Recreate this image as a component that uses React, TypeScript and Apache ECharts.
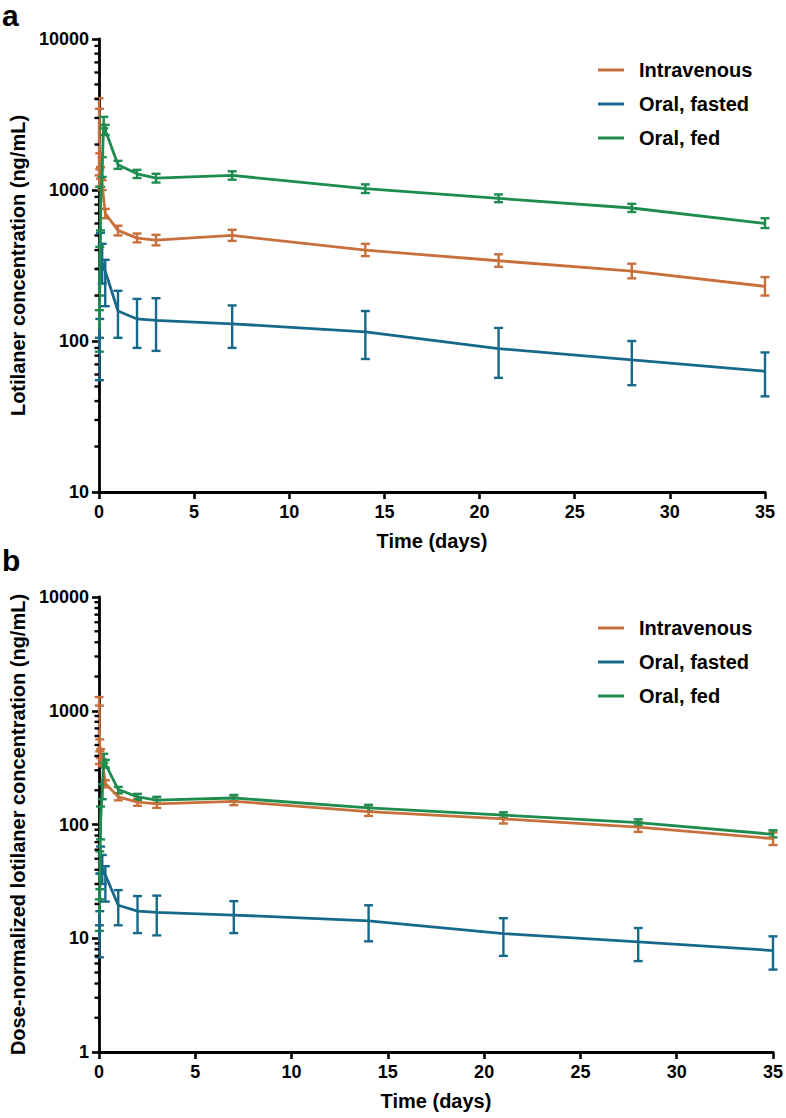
import React, { useEffect, useRef } from "react";
import * as echarts from "echarts";

// ---------- data ----------
const xTickValues = [0, 5, 10, 15, 20, 25, 30, 35];
const seriesNames = ["Intravenous", "Oral, fasted", "Oral, fed"];
const colors = ["#C8703C", "#17698A", "#1E8B4F"];

// Panel a: Lotilaner concentration (ng/mL)
const ivTime = [0.0035, 0.021, 0.042, 0.083, 0.17, 0.33, 1, 2, 3, 7, 14, 21, 28, 35];
const ivMeanA = [2100, 1900, 1550, 1300, 1080, 700, 540, 480, 465, 500, 400, 340, 290, 230];
const ivHiA = [4050, 3450, 1750, 1420, 1160, 750, 580, 515, 505, 545, 440, 375, 325, 265];
const ivLoA = [1250, 1050, 1370, 1190, 1000, 650, 500, 450, 430, 460, 365, 310, 260, 200];

const fastedTime = [0.021, 0.042, 0.083, 0.17, 0.33, 1, 2, 3, 7, 14, 21, 28, 35];
const fastedMeanA = [80, 220, 400, 330, 290, 158, 140, 137, 130, 115, 89, 75, 63];
const fastedHiA = [105, 300, 520, 440, 345, 215, 190, 192, 172, 158, 122, 100, 84];
const fastedLoA = [55, 140, 300, 240, 170, 105, 90, 86, 90, 76, 57, 51, 43];

const fedTime = [0.021, 0.042, 0.083, 0.17, 0.25, 0.33, 1, 2, 3, 7, 14, 21, 28, 35];
const fedMeanA = [120, 300, 780, 1430, 2800, 2500, 1470, 1280, 1200, 1250, 1020, 880, 760, 600];
const fedHiA = [160, 420, 1050, 1650, 3050, 2700, 1560, 1360, 1280, 1330, 1090, 935, 810, 650];
const fedLoA = [85, 200, 540, 1220, 2560, 2310, 1380, 1200, 1120, 1170, 955, 830, 715, 560];

// Panel b: Dose-normalized lotilaner concentration (ng/mL)
const ivMeanB = [680, 610, 500, 420, 350, 230, 175, 157, 152, 160, 130, 112, 95, 75];
const ivHiB = [1320, 1110, 560, 460, 375, 245, 188, 168, 164, 173, 141, 121, 105, 85];
const ivLoB = [400, 340, 440, 385, 325, 212, 163, 146, 140, 148, 119, 102, 86, 66];

const fastedMeanB = [9.9, 27, 49, 41, 36, 19.5, 17.3, 16.9, 16, 14.2, 11, 9.3, 7.8];
const fastedHiB = [13, 37, 64, 54, 43, 26.5, 23.5, 23.7, 21.2, 19.5, 15, 12.3, 10.4];
const fastedLoB = [6.8, 17.3, 37, 30, 21, 13, 11.1, 10.6, 11.1, 9.4, 7, 6.3, 5.3];

const fedMeanB = [16.5, 41, 107, 196, 384, 342, 203, 175, 164, 171, 140, 121, 104, 82];
const fedHiB = [22, 58, 144, 226, 418, 370, 214, 186, 175, 182, 149, 128, 111, 89];
const fedLoB = [11.6, 27, 74, 167, 350, 316, 189, 164, 153, 160, 131, 114, 98, 77];

const yRangeA = [10, 10000];
const yRangeB = [1, 10000];

const FONT = "'Liberation Sans', Arial, Helvetica, sans-serif";

function minorValues(min: number, max: number) {
  const out: number[] = [];
  for (let p = min; p < max; p *= 10) {
    for (let k = 2; k <= 9; k++) out.push(p * k);
  }
  return out;
}

function pairs(t: number[], v: number[]) {
  return t.map((x, i) => [x, v[i]]);
}
function triples(t: number[], lo: number[], hi: number[]) {
  return t.map((x, i) => [x, lo[i], hi[i]]);
}

function errorRender(color: string) {
  return (params: any, api: any) => {
    const x = api.value(0);
    const lo = api.coord([x, api.value(1)]);
    const hi = api.coord([x, api.value(2)]);
    const hw = 4.5;
    const style = { stroke: color, lineWidth: 2.4 };
    return {
      type: "group",
      children: [
        { type: "line", shape: { x1: lo[0], y1: lo[1], x2: hi[0], y2: hi[1] }, style },
        { type: "line", shape: { x1: hi[0] - hw, y1: hi[1], x2: hi[0] + hw, y2: hi[1] }, style },
        { type: "line", shape: { x1: lo[0] - hw, y1: lo[1], x2: lo[0] + hw, y2: lo[1] }, style },
      ],
    };
  };
}

function minorTickRender(params: any, api: any) {
  const p = api.coord([0, api.value(0)]);
  return {
    type: "line",
    shape: { x1: p[0] - 4.5, y1: p[1], x2: p[0], y2: p[1] },
    style: { stroke: "#000", lineWidth: 2.4 },
  };
}

function buildPanel(idx: number, data: any) {
  const out: any[] = [];
  const groups = [
    { name: seriesNames[0], t: ivTime, m: data.iv[0], lo: data.iv[1], hi: data.iv[2], c: colors[0] },
    { name: seriesNames[1], t: fastedTime, m: data.fa[0], lo: data.fa[1], hi: data.fa[2], c: colors[1] },
    { name: seriesNames[2], t: fedTime, m: data.fe[0], lo: data.fe[1], hi: data.fe[2], c: colors[2] },
  ];
  groups.forEach((g) => {
    out.push({
      type: "custom",
      name: g.name,
      xAxisIndex: idx,
      yAxisIndex: idx,
      renderItem: errorRender(g.c),
      encode: { x: 0, y: [1, 2] },
      data: triples(g.t, g.lo, g.hi),
      z: 3,
      silent: true,
      itemStyle: { color: g.c },
    });
    out.push({
      type: "line",
      name: g.name,
      xAxisIndex: idx,
      yAxisIndex: idx,
      data: pairs(g.t, g.m),
      showSymbol: false,
      symbol: "none",
      lineStyle: { color: g.c, width: 2.8 },
      itemStyle: { color: g.c },
      z: 4,
    });
  });
  out.push({
    type: "custom",
    xAxisIndex: idx,
    yAxisIndex: idx,
    renderItem: minorTickRender,
    encode: { y: 0 },
    data: minorValues(data.range[0], data.range[1]).map((v) => [v]),
    silent: true,
    clip: false,
    z: 5,
  });
  return out;
}

function xAxisCfg(idx: number) {
  return {
    type: "value",
    gridIndex: idx,
    min: xTickValues[0],
    max: xTickValues[xTickValues.length - 1],
    interval: 5,
    name: "Time (days)",
    nameLocation: "middle",
    nameGap: 39,
    nameTextStyle: { fontFamily: FONT, fontWeight: "bold", fontSize: 20, color: "#000" },
    axisLine: { show: true, lineStyle: { color: "#000", width: 2.8 } },
    axisTick: { show: true, length: 7, lineStyle: { color: "#000", width: 2.6 } },
    axisLabel: {
      fontFamily: FONT,
      fontWeight: "bold",
      fontSize: 18,
      color: "#000",
      margin: 11,
    },
    splitLine: { show: false },
  };
}

function yAxisCfg(idx: number, range: number[], name: string, gap: number) {
  return {
    type: "log",
    logBase: 10,
    gridIndex: idx,
    min: range[0],
    max: range[1],
    name,
    nameLocation: "middle",
    nameGap: gap,
    nameTextStyle: { fontFamily: FONT, fontWeight: "bold", fontSize: 20, color: "#000" },
    axisLine: { show: true, lineStyle: { color: "#000", width: 2.8 } },
    axisTick: { show: true, length: 7, lineStyle: { color: "#000", width: 2.6 } },
    axisLabel: {
      fontFamily: FONT,
      fontWeight: "bold",
      fontSize: 18,
      color: "#000",
      margin: 10,
      formatter: (v: number) => String(Math.round(v)),
    },
    splitLine: { show: false },
    minorTick: { show: false },
  };
}

function legendCfg(top: number) {
  return {
    show: true,
    orient: "vertical",
    left: 593,
    top,
    itemWidth: 26,
    itemHeight: 3,
    itemGap: 14,
    icon: "rect",
    data: seriesNames,
    selectedMode: false,
    textStyle: {
      fontFamily: FONT,
      fontWeight: "bold",
      fontSize: 20,
      color: "#000",
      padding: [0, 0, 0, 10],
    },
  };
}

export default function App() {
  const ref = useRef<HTMLDivElement>(null);
  useEffect(() => {
    if (!ref.current) return;
    const chart = echarts.init(ref.current, null, { renderer: "svg" });
    const seriesA = buildPanel(0, {
      iv: [ivMeanA, ivLoA, ivHiA],
      fa: [fastedMeanA, fastedLoA, fastedHiA],
      fe: [fedMeanA, fedLoA, fedHiA],
      range: yRangeA,
    });
    const seriesB = buildPanel(1, {
      iv: [ivMeanB, ivLoB, ivHiB],
      fa: [fastedMeanB, fastedLoB, fastedHiB],
      fe: [fedMeanB, fedLoB, fedHiB],
      range: yRangeB,
    });
    chart.setOption({
      animation: false,
      backgroundColor: "#fff",
      grid: [
        { left: 82, right: 21, top: 39, height: 453 },
        { left: 91, right: 11, top: 597, height: 455 },
      ],
      xAxis: [xAxisCfg(0), xAxisCfg(1)],
      yAxis: [
        yAxisCfg(0, yRangeA, "Lotilaner concentration (ng/mL)", 62),
        yAxisCfg(1, yRangeB, "Dose-normalized lotilaner concentration (ng/mL)", 71),
      ],
      legend: [legendCfg(55), legendCfg(613)],
      graphic: [
        { type: "text", left: 2, top: 0, style: { text: "a", font: `bold 30px ${FONT}`, fill: "#000" } },
        { type: "text", left: 2, top: 545, style: { text: "b", font: `bold 30px ${FONT}`, fill: "#000" } },
      ],
      series: [...seriesA, ...seriesB],
    });
    return () => chart.dispose();
  }, []);
  return (
    <div
      ref={ref}
      style={{ position: "fixed", left: 0, top: 0, width: 786, height: 1118, background: "#fff" }}
    />
  );
}
